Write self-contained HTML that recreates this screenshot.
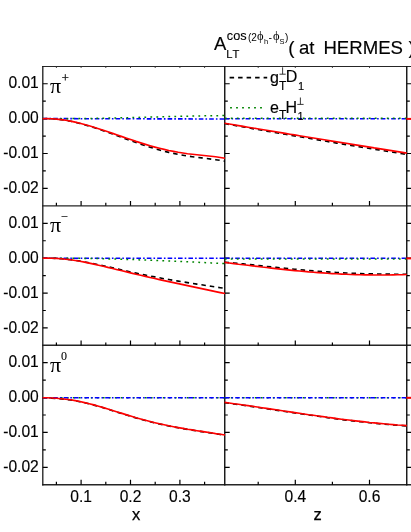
<!DOCTYPE html>
<html><head><meta charset="utf-8"><title>A_LT at HERMES</title>
<style>html,body{margin:0;padding:0;background:#fff;}svg{display:block;will-change:transform;}text{font-family:"Liberation Sans",sans-serif;fill:#000;}.se{font-family:"Liberation Serif",serif;}</style></head><body>
<svg width="411" height="532" viewBox="0 0 411 532">
<rect width="411" height="532" fill="#fff"/>
<g opacity="0.999">
<defs>
<clipPath id="cl"><rect x="42.15" y="0" width="183.35" height="532"/></clipPath>
<clipPath id="cr"><rect x="224.20000000000002" y="0" width="182.6" height="532"/></clipPath>
</defs>
<g stroke="#000" fill="none">
<line x1="42.15" y1="66.5" x2="411" y2="66.5" stroke-width="1.2" stroke="#262626"/>
<line x1="42.15" y1="205.85" x2="411" y2="205.85" stroke-width="1.4" stroke="#262626"/>
<line x1="42.15" y1="345.2" x2="411" y2="345.2" stroke-width="1.4" stroke="#262626"/>
<line x1="42.15" y1="484.75" x2="411" y2="484.75" stroke-width="1.3" stroke="#262626"/>
<line x1="42.8" y1="66.0" x2="42.8" y2="485.4" stroke-width="1.3" stroke="#1c1c1c"/>
<line x1="224.75" y1="66.0" x2="224.75" y2="485.4" stroke-width="1.4" stroke="#111"/>
<line x1="406.75" y1="66.0" x2="406.75" y2="485.4" stroke-width="1.4" stroke="#111"/>
<path d="M56.40,66.30v1.7M81.10,66.30v1.7M105.80,66.30v1.7M130.50,66.30v1.7M155.20,66.30v1.7M179.90,66.30v1.7M204.60,66.30v1.7M258.20,66.30v1.7M295.30,66.30v1.7M332.40,66.30v1.7M369.50,66.30v1.7" stroke-width="0.9" stroke="#333"/>
<path d="M42.80,83.74h4.9M224.80,83.74h4.9M406.80,83.74h4.9M42.80,101.19h3.0M224.80,101.19h3.0M406.80,101.19h3.0M42.80,118.63h4.9M224.80,118.63h4.9M406.80,118.63h4.9M42.80,136.07h3.0M224.80,136.07h3.0M406.80,136.07h3.0M42.80,153.52h4.9M224.80,153.52h4.9M406.80,153.52h4.9M42.80,170.96h3.0M224.80,170.96h3.0M406.80,170.96h3.0M42.80,188.41h4.9M224.80,188.41h4.9M406.80,188.41h4.9M42.80,223.29h4.9M224.80,223.29h4.9M406.80,223.29h4.9M42.80,240.74h3.0M224.80,240.74h3.0M406.80,240.74h3.0M42.80,258.18h4.9M224.80,258.18h4.9M406.80,258.18h4.9M42.80,275.62h3.0M224.80,275.62h3.0M406.80,275.62h3.0M42.80,293.07h4.9M224.80,293.07h4.9M406.80,293.07h4.9M42.80,310.51h3.0M224.80,310.51h3.0M406.80,310.51h3.0M42.80,327.96h4.9M224.80,327.96h4.9M406.80,327.96h4.9M42.80,362.64h4.9M224.80,362.64h4.9M406.80,362.64h4.9M42.80,380.09h3.0M224.80,380.09h3.0M406.80,380.09h3.0M42.80,397.53h4.9M224.80,397.53h4.9M406.80,397.53h4.9M42.80,414.98h3.0M224.80,414.98h3.0M406.80,414.98h3.0M42.80,432.42h4.9M224.80,432.42h4.9M406.80,432.42h4.9M42.80,449.86h3.0M224.80,449.86h3.0M406.80,449.86h3.0M42.80,467.31h4.9M224.80,467.31h4.9M406.80,467.31h4.9M56.40,205.85v-3.0M81.10,205.85v-4.9M105.80,205.85v-3.0M130.50,205.85v-4.9M155.20,205.85v-3.0M179.90,205.85v-4.9M204.60,205.85v-3.0M258.20,205.85v-3.0M295.30,205.85v-4.9M332.40,205.85v-3.0M369.50,205.85v-4.9M56.40,345.40v-3.0M81.10,345.40v-4.9M105.80,345.40v-3.0M130.50,345.40v-4.9M155.20,345.40v-3.0M179.90,345.40v-4.9M204.60,345.40v-3.0M258.20,345.40v-3.0M295.30,345.40v-4.9M332.40,345.40v-3.0M369.50,345.40v-4.9M56.40,484.75v-3.0M81.10,484.75v-4.9M105.80,484.75v-3.0M130.50,484.75v-4.9M155.20,484.75v-3.0M179.90,484.75v-4.9M204.60,484.75v-3.0M258.20,484.75v-3.0M295.30,484.75v-4.9M332.40,484.75v-3.0M369.50,484.75v-4.9" stroke-width="1.2"/>
</g>
<path d="M42.4,118.8 L47.1,118.6 L51.8,118.7 L56.4,119.1 L61.1,119.6 L65.8,120.3 L70.5,121.2 L75.2,122.2 L79.9,123.4 L84.5,124.7 L89.2,126.1 L93.9,127.6 L98.6,129.1 L103.3,130.8 L107.9,132.4 L112.6,134.1 L117.3,135.8 L122.0,137.5 L126.7,139.3 L131.4,140.9 L136.0,142.6 L140.7,144.2 L145.4,145.8 L150.1,147.2 L154.8,148.7 L159.5,150.0 L164.1,151.2 L168.8,152.4 L173.5,153.4 L178.2,154.4 L182.9,155.2 L187.5,156.0 L192.2,156.7 L196.9,157.3 L201.6,157.9 L206.3,158.5 L211.0,159.1 L215.6,159.7 L220.3,160.4 L225.0,161.2" fill="none" stroke="#000" stroke-width="1.6" stroke-dasharray="4.5 4" clip-path="url(#cl)"/>
<path d="M224.5,123.5 L229.2,124.4 L233.9,125.2 L238.5,126.1 L243.2,126.9 L247.9,127.7 L252.6,128.6 L257.3,129.4 L261.9,130.2 L266.6,131.1 L271.3,131.9 L276.0,132.7 L280.7,133.5 L285.3,134.3 L290.0,135.1 L294.7,135.9 L299.4,136.7 L304.1,137.5 L308.7,138.3 L313.4,139.1 L318.1,139.9 L322.8,140.7 L327.4,141.5 L332.1,142.3 L336.8,143.1 L341.5,143.8 L346.2,144.6 L350.8,145.4 L355.5,146.1 L360.2,146.9 L364.9,147.7 L369.6,148.4 L374.2,149.2 L378.9,149.9 L383.6,150.7 L388.3,151.4 L393.0,152.2 L397.6,152.9 L402.3,153.7 L407.0,154.4" fill="none" stroke="#000" stroke-width="1.6" stroke-dasharray="4.5 4" clip-path="url(#cr)"/>
<path d="M42.8,118.6 L224.8,119.0" fill="none" stroke="#0000ff" stroke-width="1.6" stroke-dasharray="4.6 2.1 1.6 2.1" clip-path="url(#cl)"/>
<path d="M224.8,118.7 L406.8,118.7" fill="none" stroke="#0000ff" stroke-width="1.6" stroke-dasharray="4.6 2.1 1.6 2.1" clip-path="url(#cr)"/>
<path d="M42.4,118.6 L47.1,118.7 L51.8,118.7 L56.4,118.7 L61.1,118.7 L65.8,118.7 L70.5,118.6 L75.2,118.6 L79.9,118.5 L84.5,118.5 L89.2,118.4 L93.9,118.4 L98.6,118.3 L103.3,118.2 L107.9,118.1 L112.6,118.0 L117.3,117.9 L122.0,117.8 L126.7,117.7 L131.4,117.6 L136.0,117.5 L140.7,117.3 L145.4,117.2 L150.1,117.1 L154.8,117.0 L159.5,116.9 L164.1,116.7 L168.8,116.6 L173.5,116.5 L178.2,116.4 L182.9,116.3 L187.5,116.2 L192.2,116.1 L196.9,116.0 L201.6,115.9 L206.3,115.8 L211.0,115.7 L215.6,115.7 L220.3,115.6 L225.0,115.5" fill="none" stroke="#008400" stroke-width="1.5" stroke-dasharray="1.8 4.2" clip-path="url(#cl)"/>
<path d="M224.8,118.3 L406.8,118.3" fill="none" stroke="#008400" stroke-width="1.5" stroke-dasharray="1.8 4.2" clip-path="url(#cr)"/>
<path d="M42.4,118.8 L47.1,118.6 L51.8,118.7 L56.4,119.1 L61.1,119.6 L65.8,120.3 L70.5,121.1 L75.2,122.1 L79.9,123.3 L84.5,124.5 L89.2,125.8 L93.9,127.2 L98.6,128.7 L103.3,130.2 L107.9,131.8 L112.6,133.4 L117.3,135.0 L122.0,136.6 L126.7,138.2 L131.4,139.8 L136.0,141.4 L140.7,142.9 L145.4,144.4 L150.1,145.8 L154.8,147.1 L159.5,148.3 L164.1,149.4 L168.8,150.5 L173.5,151.4 L178.2,152.3 L182.9,153.0 L187.5,153.7 L192.2,154.3 L196.9,154.8 L201.6,155.3 L206.3,155.8 L211.0,156.3 L215.6,156.8 L220.3,157.5 L225.0,158.3" fill="none" stroke="#ff0000" stroke-width="1.65" stroke-linejoin="round" clip-path="url(#cl)"/>
<path d="M224.5,123.2 L229.2,124.0 L233.9,124.8 L238.5,125.6 L243.2,126.4 L247.9,127.2 L252.6,128.0 L257.3,128.7 L261.9,129.5 L266.6,130.3 L271.3,131.1 L276.0,131.8 L280.7,132.6 L285.3,133.4 L290.0,134.2 L294.7,134.9 L299.4,135.7 L304.1,136.5 L308.7,137.2 L313.4,138.0 L318.1,138.8 L322.8,139.5 L327.4,140.3 L332.1,141.1 L336.8,141.8 L341.5,142.6 L346.2,143.3 L350.8,144.1 L355.5,144.9 L360.2,145.6 L364.9,146.4 L369.6,147.1 L374.2,147.9 L378.9,148.6 L383.6,149.4 L388.3,150.1 L393.0,150.9 L397.6,151.6 L402.3,152.4 L407.0,153.1" fill="none" stroke="#ff0000" stroke-width="1.65" stroke-linejoin="round" clip-path="url(#cr)"/>
<path d="M42.4,258.2 L47.1,258.2 L51.8,258.3 L56.4,258.4 L61.1,258.8 L65.8,259.2 L70.5,259.7 L75.2,260.3 L79.9,261.0 L84.5,261.9 L89.2,262.7 L93.9,263.7 L98.6,264.7 L103.3,265.7 L107.9,266.7 L112.6,267.8 L117.3,268.9 L122.0,270.0 L126.7,271.0 L131.4,272.1 L136.0,273.1 L140.7,274.1 L145.4,275.1 L150.1,276.0 L154.8,276.9 L159.5,277.8 L164.1,278.7 L168.8,279.5 L173.5,280.3 L178.2,281.1 L182.9,281.9 L187.5,282.6 L192.2,283.4 L196.9,284.1 L201.6,284.8 L206.3,285.6 L211.0,286.3 L215.6,287.0 L220.3,287.7 L225.0,288.3" fill="none" stroke="#000" stroke-width="1.6" stroke-dasharray="4.5 4" clip-path="url(#cl)"/>
<path d="M224.5,262.3 L229.2,262.6 L233.9,263.0 L238.5,263.5 L243.2,263.9 L247.9,264.4 L252.6,264.9 L257.3,265.4 L261.9,265.9 L266.6,266.4 L271.3,266.9 L276.0,267.4 L280.7,267.8 L285.3,268.3 L290.0,268.8 L294.7,269.2 L299.4,269.7 L304.1,270.1 L308.7,270.5 L313.4,270.9 L318.1,271.3 L322.8,271.6 L327.4,271.9 L332.1,272.2 L336.8,272.5 L341.5,272.8 L346.2,273.0 L350.8,273.2 L355.5,273.4 L360.2,273.6 L364.9,273.7 L369.6,273.8 L374.2,273.9 L378.9,274.0 L383.6,274.1 L388.3,274.1 L393.0,274.2 L397.6,274.2 L402.3,274.2 L407.0,274.2" fill="none" stroke="#000" stroke-width="1.6" stroke-dasharray="4.5 4" clip-path="url(#cr)"/>
<path d="M42.8,258.2 L224.8,258.2" fill="none" stroke="#0000ff" stroke-width="1.6" stroke-dasharray="4.6 2.1 1.6 2.1" clip-path="url(#cl)"/>
<path d="M224.8,258.2 L406.8,258.2" fill="none" stroke="#0000ff" stroke-width="1.6" stroke-dasharray="4.6 2.1 1.6 2.1" clip-path="url(#cr)"/>
<path d="M42.4,258.2 L47.1,258.2 L51.8,258.1 L56.4,258.1 L61.1,258.2 L65.8,258.2 L70.5,258.2 L75.2,258.3 L79.9,258.3 L84.5,258.4 L89.2,258.5 L93.9,258.5 L98.6,258.6 L103.3,258.7 L107.9,258.9 L112.6,259.0 L117.3,259.1 L122.0,259.2 L126.7,259.4 L131.4,259.5 L136.0,259.7 L140.7,259.9 L145.4,260.0 L150.1,260.2 L154.8,260.4 L159.5,260.6 L164.1,260.8 L168.8,261.0 L173.5,261.2 L178.2,261.4 L182.9,261.6 L187.5,261.8 L192.2,262.0 L196.9,262.2 L201.6,262.5 L206.3,262.7 L211.0,262.9 L215.6,263.1 L220.3,263.4 L225.0,263.6" fill="none" stroke="#008400" stroke-width="1.5" stroke-dasharray="1.8 4.2" clip-path="url(#cl)"/>
<path d="M224.8,259.1 L406.8,259.0" fill="none" stroke="#008400" stroke-width="1.5" stroke-dasharray="1.8 4.2" clip-path="url(#cr)"/>
<path d="M42.4,258.2 L47.1,258.1 L51.8,258.2 L56.4,258.4 L61.1,258.7 L65.8,259.2 L70.5,259.8 L75.2,260.5 L79.9,261.3 L84.5,262.1 L89.2,263.1 L93.9,264.1 L98.6,265.2 L103.3,266.2 L107.9,267.4 L112.6,268.5 L117.3,269.7 L122.0,270.8 L126.7,271.9 L131.4,273.1 L136.0,274.2 L140.7,275.3 L145.4,276.4 L150.1,277.5 L154.8,278.5 L159.5,279.6 L164.1,280.6 L168.8,281.6 L173.5,282.6 L178.2,283.6 L182.9,284.6 L187.5,285.6 L192.2,286.6 L196.9,287.6 L201.6,288.6 L206.3,289.6 L211.0,290.6 L215.6,291.6 L220.3,292.6 L225.0,293.5" fill="none" stroke="#ff0000" stroke-width="1.65" stroke-linejoin="round" clip-path="url(#cl)"/>
<path d="M224.5,262.4 L229.2,263.0 L233.9,263.6 L238.5,264.2 L243.2,264.7 L247.9,265.3 L252.6,265.9 L257.3,266.4 L261.9,267.0 L266.6,267.5 L271.3,268.1 L276.0,268.6 L280.7,269.1 L285.3,269.6 L290.0,270.1 L294.7,270.6 L299.4,271.0 L304.1,271.4 L308.7,271.9 L313.4,272.2 L318.1,272.6 L322.8,272.9 L327.4,273.3 L332.1,273.6 L336.8,273.8 L341.5,274.1 L346.2,274.3 L350.8,274.5 L355.5,274.6 L360.2,274.8 L364.9,274.9 L369.6,274.9 L374.2,275.0 L378.9,275.0 L383.6,275.0 L388.3,275.0 L393.0,274.9 L397.6,274.8 L402.3,274.7 L407.0,274.5" fill="none" stroke="#ff0000" stroke-width="1.65" stroke-linejoin="round" clip-path="url(#cr)"/>
<path d="M42.4,397.9 L47.1,398.0 L51.8,398.2 L56.4,398.5 L61.1,398.9 L65.8,399.4 L70.5,400.0 L75.2,400.8 L79.9,401.7 L84.5,402.8 L89.2,403.9 L93.9,405.1 L98.6,406.4 L103.3,407.8 L107.9,409.2 L112.6,410.7 L117.3,412.2 L122.0,413.6 L126.7,415.1 L131.4,416.5 L136.0,417.9 L140.7,419.2 L145.4,420.5 L150.1,421.7 L154.8,422.9 L159.5,424.0 L164.1,425.0 L168.8,426.0 L173.5,426.9 L178.2,427.8 L182.9,428.6 L187.5,429.4 L192.2,430.1 L196.9,430.9 L201.6,431.6 L206.3,432.3 L211.0,433.0 L215.6,433.8 L220.3,434.5 L225.0,435.2" fill="none" stroke="#000" stroke-width="1.6" stroke-dasharray="4.5 4" clip-path="url(#cl)"/>
<path d="M224.5,402.7 L229.2,403.3 L233.9,404.0 L238.5,404.6 L243.2,405.3 L247.9,405.9 L252.6,406.6 L257.3,407.3 L261.9,408.0 L266.6,408.7 L271.3,409.4 L276.0,410.1 L280.7,410.8 L285.3,411.5 L290.0,412.2 L294.7,412.9 L299.4,413.6 L304.1,414.3 L308.7,415.0 L313.4,415.6 L318.1,416.3 L322.8,416.9 L327.4,417.6 L332.1,418.2 L336.8,418.9 L341.5,419.5 L346.2,420.1 L350.8,420.6 L355.5,421.2 L360.2,421.7 L364.9,422.2 L369.6,422.8 L374.2,423.2 L378.9,423.7 L383.6,424.1 L388.3,424.5 L393.0,424.9 L397.6,425.3 L402.3,425.6 L407.0,425.9" fill="none" stroke="#000" stroke-width="1.6" stroke-dasharray="4.5 4" clip-path="url(#cr)"/>
<path d="M42.8,397.8 L224.8,397.8" fill="none" stroke="#008400" stroke-width="1.5" stroke-dasharray="1.8 4.2" clip-path="url(#cl)"/>
<path d="M224.8,397.8 L406.8,397.8" fill="none" stroke="#008400" stroke-width="1.5" stroke-dasharray="1.8 4.2" clip-path="url(#cr)"/>
<path d="M42.8,397.8 L224.8,397.8" fill="none" stroke="#0000ff" stroke-width="1.6" stroke-dasharray="4.6 2.1 1.6 2.1" clip-path="url(#cl)"/>
<path d="M224.8,397.8 L406.8,397.8" fill="none" stroke="#0000ff" stroke-width="1.6" stroke-dasharray="4.6 2.1 1.6 2.1" clip-path="url(#cr)"/>
<path d="M42.4,397.7 L47.1,397.8 L51.8,398.0 L56.4,398.3 L61.1,398.7 L65.8,399.2 L70.5,399.8 L75.2,400.6 L79.9,401.5 L84.5,402.6 L89.2,403.7 L93.9,404.9 L98.6,406.2 L103.3,407.6 L107.9,409.0 L112.6,410.5 L117.3,412.0 L122.0,413.4 L126.7,414.9 L131.4,416.3 L136.0,417.7 L140.7,419.0 L145.4,420.3 L150.1,421.5 L154.8,422.7 L159.5,423.8 L164.1,424.8 L168.8,425.8 L173.5,426.7 L178.2,427.6 L182.9,428.4 L187.5,429.2 L192.2,429.9 L196.9,430.7 L201.6,431.4 L206.3,432.1 L211.0,432.8 L215.6,433.6 L220.3,434.3 L225.0,435.0" fill="none" stroke="#ff0000" stroke-width="1.65" stroke-linejoin="round" clip-path="url(#cl)"/>
<path d="M224.5,402.4 L229.2,403.0 L233.9,403.7 L238.5,404.3 L243.2,405.0 L247.9,405.6 L252.6,406.3 L257.3,407.0 L261.9,407.7 L266.6,408.4 L271.3,409.1 L276.0,409.8 L280.7,410.5 L285.3,411.2 L290.0,411.9 L294.7,412.6 L299.4,413.3 L304.1,414.0 L308.7,414.7 L313.4,415.3 L318.1,416.0 L322.8,416.6 L327.4,417.3 L332.1,417.9 L336.8,418.6 L341.5,419.2 L346.2,419.8 L350.8,420.3 L355.5,420.9 L360.2,421.4 L364.9,421.9 L369.6,422.5 L374.2,422.9 L378.9,423.4 L383.6,423.8 L388.3,424.2 L393.0,424.6 L397.6,425.0 L402.3,425.3 L407.0,425.6" fill="none" stroke="#ff0000" stroke-width="1.65" stroke-linejoin="round" clip-path="url(#cr)"/>
<line x1="406.40000000000003" y1="118.9" x2="411" y2="118.9" stroke="#ff0000" stroke-width="2.0"/>
<line x1="406.40000000000003" y1="258.4" x2="411" y2="258.4" stroke="#ff0000" stroke-width="2.0"/>
<line x1="406.40000000000003" y1="397.8" x2="411" y2="397.8" stroke="#ff0000" stroke-width="2.0"/>
<line x1="229.6" y1="77.6" x2="267.2" y2="77.6" stroke="#000" stroke-width="1.6" stroke-dasharray="4.5 4"/>
<line x1="230.1" y1="107.7" x2="262" y2="107.7" stroke="#008400" stroke-width="1.5" stroke-dasharray="1.8 4.2"/>
<text x="38.8" y="88.3" font-size="15.6" text-anchor="end" stroke="#000" stroke-width="0.15">0.01</text>
<text x="38.8" y="123.2" font-size="15.6" text-anchor="end" stroke="#000" stroke-width="0.15">0.00</text>
<text x="38.8" y="158.1" font-size="15.6" text-anchor="end" stroke="#000" stroke-width="0.15">-0.01</text>
<text x="38.8" y="193.0" font-size="15.6" text-anchor="end" stroke="#000" stroke-width="0.15">-0.02</text>
<text x="38.8" y="227.9" font-size="15.6" text-anchor="end" stroke="#000" stroke-width="0.15">0.01</text>
<text x="38.8" y="262.8" font-size="15.6" text-anchor="end" stroke="#000" stroke-width="0.15">0.00</text>
<text x="38.8" y="297.7" font-size="15.6" text-anchor="end" stroke="#000" stroke-width="0.15">-0.01</text>
<text x="38.8" y="332.6" font-size="15.6" text-anchor="end" stroke="#000" stroke-width="0.15">-0.02</text>
<text x="38.8" y="367.2" font-size="15.6" text-anchor="end" stroke="#000" stroke-width="0.15">0.01</text>
<text x="38.8" y="402.1" font-size="15.6" text-anchor="end" stroke="#000" stroke-width="0.15">0.00</text>
<text x="38.8" y="437.0" font-size="15.6" text-anchor="end" stroke="#000" stroke-width="0.15">-0.01</text>
<text x="38.8" y="471.9" font-size="15.6" text-anchor="end" stroke="#000" stroke-width="0.15">-0.02</text>
<text x="81.1" y="501.9" font-size="15.6" text-anchor="middle" stroke="#000" stroke-width="0.15">0.1</text>
<text x="130.5" y="501.9" font-size="15.6" text-anchor="middle" stroke="#000" stroke-width="0.15">0.2</text>
<text x="179.9" y="501.9" font-size="15.6" text-anchor="middle" stroke="#000" stroke-width="0.15">0.3</text>
<text x="295.3" y="501.9" font-size="15.6" text-anchor="middle" stroke="#000" stroke-width="0.15">0.4</text>
<text x="369.5" y="501.9" font-size="15.6" text-anchor="middle" stroke="#000" stroke-width="0.15">0.6</text>
<text x="136.1" y="520.1" font-size="16.5" text-anchor="middle" stroke="#000" stroke-width="0.25">x</text>
<text x="317.5" y="520.1" font-size="16.5" text-anchor="middle" stroke="#000" stroke-width="0.25">z</text>
<text class="se" x="50.0" y="93.0" font-size="22">π</text>
<text class="se" x="61.7" y="82.0" font-size="12.5" stroke="#000" stroke-width="0.25">+</text>
<text class="se" x="50.0" y="231.9" font-size="22">π</text>
<text class="se" x="60.8" y="220.9" font-size="12.5" stroke="#000" stroke-width="0.1">−</text>
<text class="se" x="50.0" y="371.8" font-size="22">π</text>
<text class="se" x="61.0" y="359.7" font-size="12" stroke="#000" stroke-width="0.1">0</text>
<text x="270.1" y="82.7" font-size="16" stroke="#000" stroke-width="0.15">g</text>
<text x="278.9" y="89.6" font-size="12" stroke="#000" stroke-width="0.15">T</text>
<path d="M279.5,74.2h6.2M282.6,74.2v-6.9" stroke="#222" stroke-width="0.9" fill="none"/>
<text x="285.8" y="82.2" font-size="16" stroke="#000" stroke-width="0.15">D</text>
<text x="298.0" y="90.0" font-size="11" stroke="#000" stroke-width="0.15">1</text>
<text x="270.0" y="112.6" font-size="16" stroke="#000" stroke-width="0.15">e</text>
<text x="278.9" y="119.4" font-size="12" stroke="#000" stroke-width="0.15">T</text>
<text x="285.6" y="112.6" font-size="16" stroke="#000" stroke-width="0.15">H</text>
<path d="M297.3,104.4h6.3M300.4,104.4v-6.9" stroke="#222" stroke-width="0.9" fill="none"/>
<text x="297.5" y="119.6" font-size="11" stroke="#000" stroke-width="0.15">1</text>
<text x="214.0" y="50.0" font-size="18.5" stroke="#000" stroke-width="0.15">A</text>
<text x="226.3" y="57.95" font-size="11.2" letter-spacing="0.9" stroke="#000" stroke-width="0.15">LT</text>
<text x="226.8" y="39.5" font-size="12.7" stroke="#000" stroke-width="0.12">cos</text>
<text x="247.9" y="40.5" font-size="10" fill="#1a1a1a">(2</text>
<text class="se" x="257.1" y="40.3" font-size="12.5" fill="#1a1a1a">ϕ</text>
<text x="264.0" y="43.7" font-size="7.5" fill="#1a1a1a">h</text>
<text x="268.5" y="40.5" font-size="10.5" fill="#1a1a1a">-</text>
<text class="se" x="272.9" y="40.3" font-size="12.5" fill="#1a1a1a">ϕ</text>
<text x="279.6" y="44.3" font-size="7.5" fill="#1a1a1a">S</text>
<text x="285.1" y="40.5" font-size="10" fill="#1a1a1a">)</text>
<text x="288.2" y="53.7" font-size="18.8" stroke="#000" stroke-width="0.15">(</text>
<text x="299.0" y="53.7" font-size="18.6" stroke="#000" stroke-width="0.15">at</text>
<text x="323.4" y="53.7" font-size="18.6" stroke="#000" stroke-width="0.15">HERMES</text>
<text x="408.5" y="53.7" font-size="18.8" stroke="#000" stroke-width="0.15">)</text>
</g></svg></body></html>
